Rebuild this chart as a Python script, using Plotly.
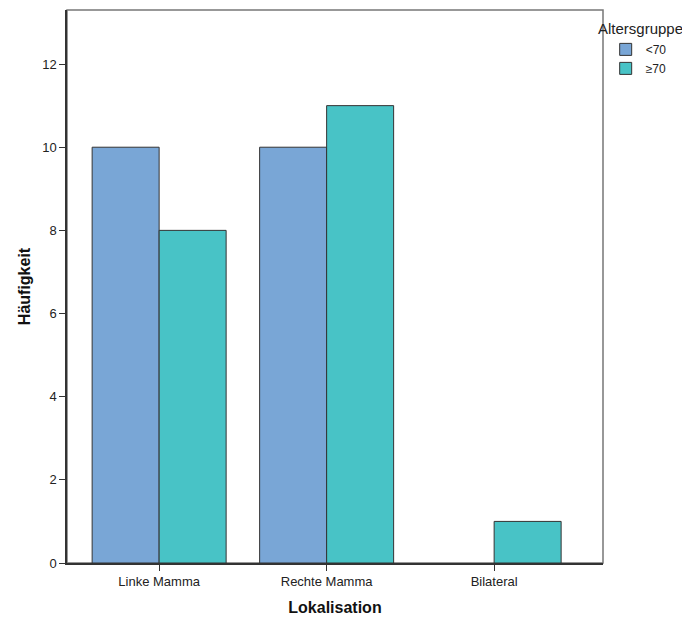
import plotly.graph_objects as go

categories = ["Linke Mamma", "Rechte Mamma", "Bilateral"]
under70 = [10, 10, 0]
over70 = [8, 11, 1]
series_names = ["<70", "≥70"]
y_ticks = [0, 2, 4, 6, 8, 10, 12]

blue = "#79A6D6"
teal = "#48C3C6"

# hide the outline of zero-height bars
under_lw = [0 if v == 0 else 1 for v in under70]
over_lw = [0 if v == 0 else 1 for v in over70]

fig = go.Figure()
fig.add_trace(go.Bar(x=categories, y=under70, name=series_names[0],
                     marker=dict(color=blue, line=dict(color="#333333", width=under_lw))))
fig.add_trace(go.Bar(x=categories, y=over70, name=series_names[1],
                     marker=dict(color=teal, line=dict(color="#333333", width=over_lw))))

fig.update_layout(
    width=682, height=610,
    margin=dict(l=59, r=87, t=2, b=55),
    paper_bgcolor="white", plot_bgcolor="white",
    barmode="group", bargap=0.2, bargroupgap=0,
    font=dict(family="Liberation Sans, Arial, sans-serif", size=13, color="#222222"),
    showlegend=True,
    legend=dict(x=1.005, xanchor="left", y=0.955, yanchor="top",
                xref="paper", yref="paper",
                font=dict(size=12, color="#222222"),
                itemwidth=30, tracegroupgap=0,
                bgcolor="rgba(0,0,0,0)"),
    xaxis=dict(
        range=[-0.55, 2.65], showgrid=False, zeroline=False,
        showline=True, linecolor="#333333", linewidth=1.5,
        ticks="outside", ticklen=6, tickcolor="#333333",
        tickfont=dict(size=13, color="#222222"),
        title=dict(text="<b>Lokalisation</b>", font=dict(size=16, color="#111111"), standoff=13),
    ),
    yaxis=dict(
        range=[0, 13.3], showgrid=False, zeroline=False,
        tickvals=y_ticks,
        showline=True, linecolor="#333333", linewidth=1.5,
        ticks="outside", ticklen=6, tickcolor="#333333",
        tickfont=dict(size=13, color="#222222"),
        title=dict(text="<b>Häufigkeit</b>", font=dict(size=16, color="#111111"), standoff=8),
    ),
    shapes=[dict(type="rect", xref="paper", yref="paper", x0=0, x1=1, y0=0, y1=1,
                 line=dict(color="#777777", width=1.5), layer="below")],
    annotations=[dict(text="Altersgruppe", xref="paper", yref="paper",
                      x=1.0, y=1.0, xanchor="left", yanchor="middle",
                      xshift=-7, yshift=-18,
                      showarrow=False, font=dict(size=15, color="#222222"))],
)

fig.write_html("out.html")
